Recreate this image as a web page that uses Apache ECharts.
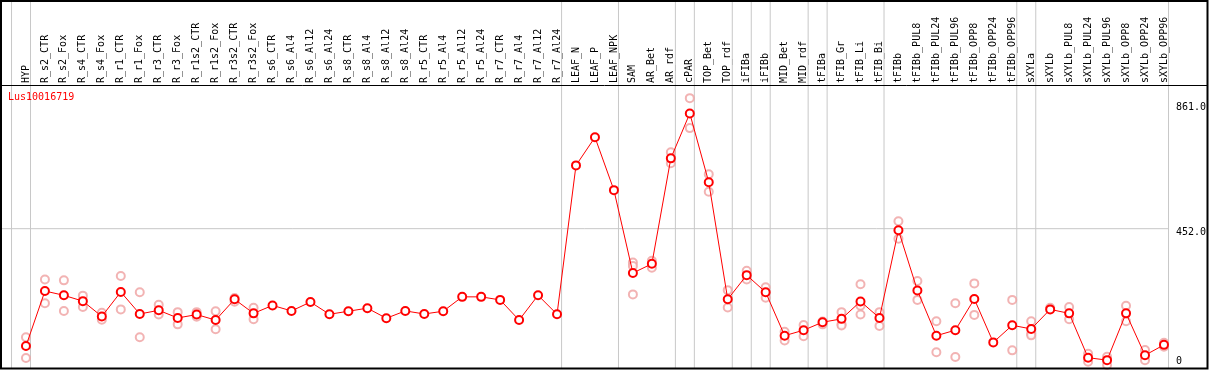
<!DOCTYPE html>
<html>
<head>
<meta charset="utf-8">
<script src="https://cdn.jsdelivr.net/npm/echarts@6/dist/echarts.min.js"></script>
<style>
html,body{margin:0;padding:0;background:#fff;}
#chart{width:1209px;height:370px;}
</style>
</head>
<body>
<div id="chart"></div>
<script>
const categories = ["HYP","R_s2_CTR","R_s2_Fox","R_s4_CTR","R_s4_Fox","R_r1_CTR","R_r1_Fox","R_r3_CTR","R_r3_Fox","R_r1s2_CTR","R_r1s2_Fox","R_r3s2_CTR","R_r3s2_Fox","R_s6_CTR","R_s6_Al4","R_s6_Al12","R_s6_Al24","R_s8_CTR","R_s8_Al4","R_s8_Al12","R_s8_Al24","R_r5_CTR","R_r5_Al4","R_r5_Al12","R_r5_Al24","R_r7_CTR","R_r7_Al4","R_r7_Al12","R_r7_Al24","LEAF_N","LEAF_P","LEAF_NPK","SAM","AR_Bet","AR_rdf","cPAR","TOP_Bet","TOP_rdf","iFIBa","iFIBb","MID_Bet","MID_rdf","tFIBa","tFIB_Gr","tFIB_Li","tFIB_Bi","tFIBb","tFIBb_PUL8","tFIBb_PUL24","tFIBb_PUL96","tFIBb_OPP8","tFIBb_OPP24","tFIBb_OPP96","sXYLa","sXYLb","sXYLb_PUL8","sXYLb_PUL24","sXYLb_PUL96","sXYLb_OPP8","sXYLb_OPP24","sXYLb_OPP96"];

const meanValues = [68,248,234,215,165,245,173,185,160,171,153,221,175,201,183,212,172,182,192,159,183,173,182,229,229,219,153,234,172,659,751,578,307,337,682,829,604,221,300,244,102,120,146,157,214,160,447,250,102,120,222,80,136,124,188,175,30,22,175,38,72];

const rep1 = [97,286,283,233,177,297,244,203,179,179,182,225,193,null,null,null,null,null,null,null,null,null,null,null,null,null,null,null,null,null,null,null,341,347,702,879,630,251,314,260,115,137,148,179,270,179,476,281,149,208,273,null,219,149,193,196,43,33,200,55,79];
const rep2 = [29,208,183,196,154,188,97,171,139,164,123,213,156,null,null,null,null,null,null,null,null,null,null,null,null,null,null,null,null,null,null,null,330,324,666,781,573,194,286,226,86,100,139,139,200,134,419,219,48,32,170,null,54,108,null,156,17,6,149,22,66];
const rep3 = [null,null,null,null,null,null,null,null,null,null,null,null,null,null,null,null,null,null,null,null,null,null,null,null,null,null,null,null,null,null,null,null,237,null,null,null,null,null,null,null,null,null,null,135,171,null,null,null,null,null,null,null,null,103,null,null,null,null,null,null,null];

const yLabelValues = [0, 452, 861];
const gridLineValue = 452;
const groupEnds = [-1,0,28,31,34,35,37,38,39,41,42,45,52,53,60];

const X_MIN = -25/19, X_MAX = -25/19 + 1207/19;
const Y_MIN = -7, Y_MAX = 1200;

function pairs(arr){ const out=[]; arr.forEach((v,i)=>{ if(v!==null) out.push([i,v]); }); return out; }
const repData = pairs(rep1).concat(pairs(rep2), pairs(rep3));

const sepData = [];
groupEnds.forEach(g=>{ const x=g+0.24; sepData.push([x, Y_MIN],[x, Y_MAX],[x,'-']); });
sepData.push([X_MIN, gridLineValue],[60.24, gridLineValue]);

const chart = echarts.init(document.getElementById('chart'), null, {renderer:'canvas'});
const mono = 'DejaVu Sans Mono';
chart.setOption({
  animation:false,
  backgroundColor:'#ffffff',
  title:{text:'Lus10016719', left:8, top:92, padding:0,
    textStyle:{color:'#ff0000', fontSize:10, fontWeight:'normal', fontFamily:mono}},
  grid:{left:1, right:1, top:0, bottom:1, containLabel:false},
  xAxis:{type:'value', min:X_MIN, max:X_MAX, position:'top', offset:-85,
    axisLine:{show:false}, axisTick:{show:false}, splitLine:{show:false},
    axisLabel:{customValues: categories.map((c,i)=>i), rotate:90, margin:2,
      fontFamily:mono, fontSize:10, color:'#000',
      formatter:v=>categories[Math.round(v)] || ''}},
  yAxis:{type:'value', min:Y_MIN, max:Y_MAX, position:'right',
    axisLine:{show:false}, axisTick:{show:false}, splitLine:{show:false},
    axisLabel:{customValues: yLabelValues, inside:true, margin:30, align:'left',
      fontFamily:mono, fontSize:10, color:'#000',
      formatter:v=> v===0 ? '{z|0}' : '{d|'+v.toFixed(1)+'}',
      rich:{ z:{padding:[0,0,10,0], fontFamily:mono, fontSize:10, color:'#000'},
             d:{padding:[8,0,0,0], fontFamily:mono, fontSize:10, color:'#000'} }}},
  series:[
    {type:'line', name:'separators', z:1, data:sepData, silent:true,
      symbol:'none', connectNulls:false, clip:false,
      lineStyle:{color:'#c8c8c8', width:1}},
    {type:'scatter', name:'replicates', z:2, data:repData,
      symbol:'emptyCircle', symbolSize:8,
      itemStyle:{color:'#efa0a0', borderColor:'#efa0a0', borderWidth:1.2}},
    {type:'line', name:'mean', z:3, data: meanValues.map((v,i)=>[i,v]),
      symbol:'emptyCircle', symbolSize:8, showSymbol:true,
      lineStyle:{color:'#ff0000', width:1},
      itemStyle:{color:'#ff0000', borderColor:'#ff0000', borderWidth:1.2}}
  ],
  graphic:[
    {type:'rect', z:100, shape:{x:1, y:1, width:1206.5, height:367.5},
      style:{fill:'none', stroke:'#000', lineWidth:2}},
    {type:'line', z:100, shape:{x1:1, y1:85.5, x2:1208, y2:85.5},
      style:{stroke:'#000', lineWidth:1}}
  ]
});
</script>
</body>
</html>
